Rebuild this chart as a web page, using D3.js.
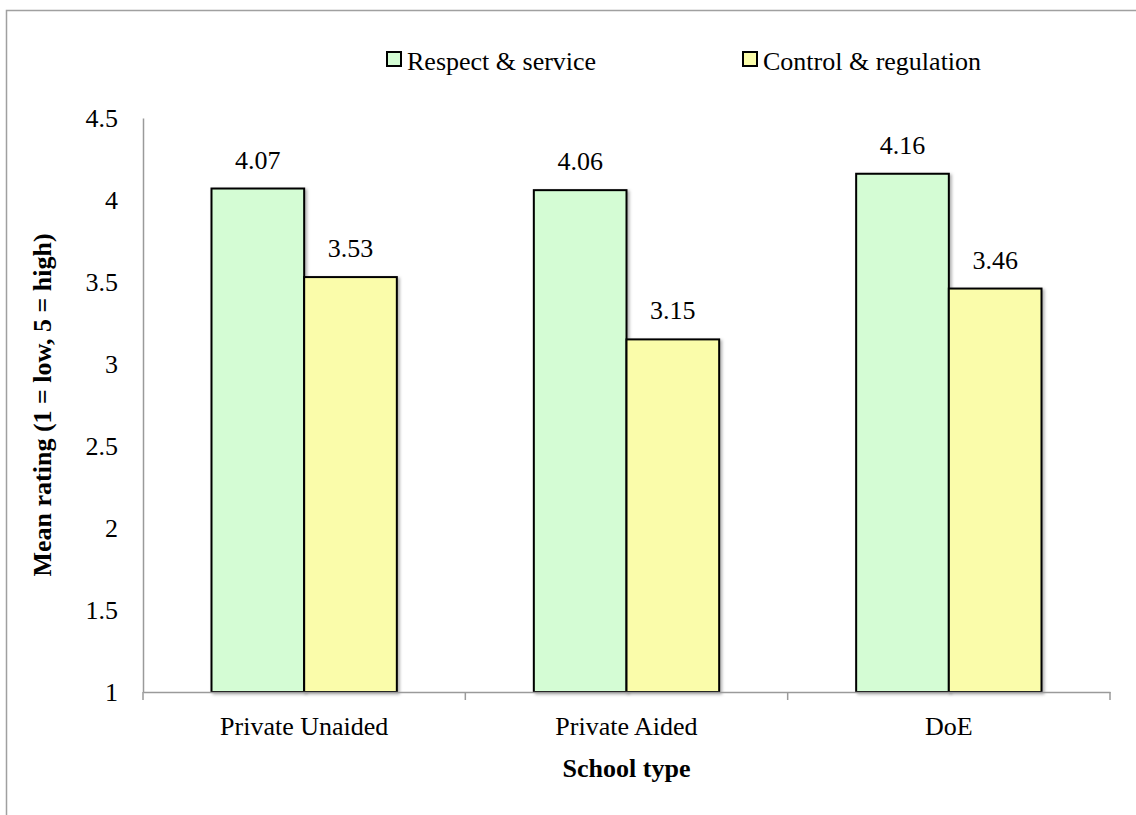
<!DOCTYPE html>
<html>
<head>
<meta charset="utf-8">
<script src="https://cdn.jsdelivr.net/npm/d3@7"></script>
<style>
  html, body { margin: 0; padding: 0; background: #fff; }
  svg { display: block; }
  svg text { font-family: "Liberation Serif", "Times New Roman", serif; }
</style>
</head>
<body>
<svg id="chart" width="1136" height="815"></svg>
<script>
// School types and mean ratings per dimension
const categories = ["Private Unaided", "Private Aided", "DoE"];
const seriesNames = ["Respect & service", "Control & regulation"];
const respectService = [4.07, 4.06, 4.16];
const controlRegulation = [3.53, 3.15, 3.46];
const yTicks = [1, 1.5, 2, 2.5, 3, 3.5, 4, 4.5];
const seriesColors = ["#d4fcd4", "#fafcaa"];

const seriesValues = [respectService, controlRegulation];
const FONT = "Liberation Serif";
const FS = 26;

const svg = d3.select("#chart");

const plot = { left: 143, right: 1110, top: 118, bottom: 692 };

// Outer chart frame
svg.append("rect")
  .attr("x", 6.5).attr("y", 10.5)
  .attr("width", 1200).attr("height", 900)
  .attr("fill", "none").attr("stroke", "#a0a0a0").attr("stroke-width", 1.5);

// Bar drop shadow
const defs = svg.append("defs");
const f = defs.append("filter").attr("id", "shadow")
  .attr("x", "-10%").attr("y", "-10%").attr("width", "130%").attr("height", "130%");
f.append("feDropShadow").attr("dx", 2).attr("dy", 1.5).attr("stdDeviation", 1.5)
  .attr("flood-color", "#000").attr("flood-opacity", 0.3);

const x = d3.scaleBand().domain(categories).range([plot.left, plot.right]).padding(0);
const groupFrac = 0.575;
const x1 = d3.scaleBand().domain(d3.range(seriesNames.length))
  .range([0, x.bandwidth() * groupFrac]).padding(0);
const y = d3.scaleLinear().domain([1, 4.5]).range([plot.bottom, plot.top]);

// Y axis
const yAxis = svg.append("g").attr("transform", `translate(${plot.left},0)`)
  .call(d3.axisLeft(y).tickValues(yTicks).tickSize(0).tickPadding(25).tickFormat(d3.format("")));
yAxis.attr("font-family", FONT).attr("font-size", FS);
yAxis.select(".domain").attr("stroke", "#9a9a9a").attr("stroke-width", 1.5);
yAxis.selectAll("text").attr("fill", "#000").attr("dy", "0.34em");

// Bars with value labels
const groups = svg.append("g").selectAll("g")
  .data(categories).join("g")
  .attr("transform", d => `translate(${x(d) + x.bandwidth() * (1 - groupFrac) / 2},0)`);

groups.each(function(cat, ci) {
  const g = d3.select(this);
  seriesValues.forEach((vals, si) => {
    const v = vals[ci];
    g.append("rect")
      .attr("x", x1(si)).attr("y", y(v))
      .attr("width", x1.bandwidth()).attr("height", y(1) - y(v))
      .attr("fill", seriesColors[si]).attr("stroke", "#000").attr("stroke-width", 2)
      .attr("filter", "url(#shadow)");
    g.append("text")
      .attr("x", x1(si) + x1.bandwidth() / 2).attr("y", y(v) - 20)
      .attr("text-anchor", "middle").attr("font-family", FONT).attr("font-size", FS).attr("fill", "#000")
      .text(v.toFixed(2));
  });
});

// X axis
const xAxis = svg.append("g").attr("transform", `translate(0,${plot.bottom})`)
  .call(d3.axisBottom(x).tickSize(0).tickPadding(0));
xAxis.select(".domain").attr("stroke", "#9a9a9a").attr("stroke-width", 1.5);
xAxis.selectAll(".tick").remove();
const edges = categories.map(c => x(c)).concat([plot.right]);
xAxis.selectAll("line.edge").data(edges).join("line").attr("class", "edge")
  .attr("x1", d => d).attr("x2", d => d).attr("y1", 0).attr("y2", 8)
  .attr("stroke", "#9a9a9a").attr("stroke-width", 1.5);
svg.append("g").selectAll("text").data(categories).join("text")
  .attr("x", d => x(d) + x.bandwidth() / 2).attr("y", 735)
  .attr("text-anchor", "middle").attr("font-family", FONT).attr("font-size", FS).attr("fill", "#000")
  .text(d => d);

// Axis titles
svg.append("text")
  .attr("x", (plot.left + plot.right) / 2).attr("y", 777)
  .attr("text-anchor", "middle").attr("font-family", FONT).attr("font-size", FS).attr("font-weight", "bold")
  .text("School type");
svg.append("text")
  .attr("transform", `translate(51,${(plot.top + plot.bottom) / 2}) rotate(-90)`)
  .attr("text-anchor", "middle").attr("font-family", FONT).attr("font-size", FS).attr("font-weight", "bold")
  .text("Mean rating (1 = low, 5 = high)");

// Legend
const legendX = [387, 743];
const legend = svg.append("g").selectAll("g").data(seriesNames).join("g")
  .attr("transform", (d, i) => `translate(${legendX[i]},0)`);
legend.append("rect").attr("x", 0).attr("y", 52).attr("width", 14).attr("height", 14)
  .attr("fill", (d, i) => seriesColors[i]).attr("stroke", "#000").attr("stroke-width", 2);
legend.append("text").attr("x", 20).attr("y", 70)
  .attr("font-family", FONT).attr("font-size", FS).attr("fill", "#000")
  .text(d => d);
</script>
</body>
</html>
